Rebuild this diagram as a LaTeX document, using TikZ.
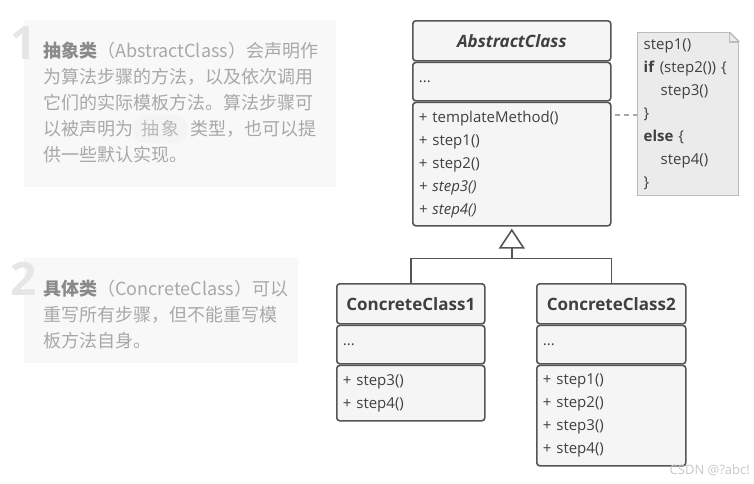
\documentclass[tikz,border=0pt]{standalone}
\usepackage{fontspec}
\setmainfont{Open Sans}
\newfontfamily\cjk{Noto Sans CJK SC}
\usetikzlibrary{positioning,arrows.meta}

\definecolor{umlline}{HTML}{555555}
\definecolor{umlfill}{HTML}{F5F5F5}
\definecolor{umltext}{HTML}{404040}
\definecolor{notefill}{HTML}{EBEBEB}
\definecolor{noteline}{HTML}{BBBBBB}
\definecolor{panelfill}{HTML}{F8F8F8}
\definecolor{paneltext}{HTML}{A8A8A8}
\definecolor{panelbold}{HTML}{8A8A8A}
\definecolor{bignum}{HTML}{E6E6E6}
\definecolor{pillfill}{HTML}{F4F4F4}

\tikzset{
  section/.style={draw=umlline, fill=umlfill, line width=1.6pt, rounded corners=3pt,
    inner sep=0pt, anchor=north west, text=umltext},
  classhead/.style={section, minimum height=40pt, font=\bfseries\fontsize{17}{19}\selectfont},
  classbody/.style={section, align=left, inner xsep=6pt, font=\fontsize{15}{23}\selectfont},
  notebox/.style={draw=noteline, fill=notefill, line width=1.4pt, anchor=north west,
    align=left, inner xsep=6pt, inner ysep=0pt, text=umltext, font=\fontsize{15}{23}\selectfont},
  notelink/.style={draw=noteline!90!black, line width=1.4pt, dash pattern=on 5pt off 4pt},
  inherit/.style={draw=umlline, line width=1.6pt},
  panel/.style={fill=panelfill, anchor=north west, inner sep=0pt},
  paneltxt/.style={anchor=west, align=left, inner sep=0pt, text=paneltext,
    font=\cjk\fontsize{18}{26}\selectfont},
  bignumber/.style={anchor=base west, inner sep=0pt, text=bignum,
    font=\bfseries\fontsize{46}{46}\selectfont},
  pill/.style={fill=pillfill, rounded corners=14pt, minimum width=55pt, minimum height=28pt,
    inner sep=0pt, text=paneltext!80!white, font=\cjk\fontsize{18}{18}\selectfont}
}

\begin{document}
\begin{tikzpicture}[x=1pt, y=-1pt]
\useasboundingbox (0,0) rectangle (754,483);

% Step 1 note (top left)
\node[panel, minimum width=312pt, minimum height=167pt] (panel1) at (24,20) {};
\node[bignumber] (num1) at (10,59) {1};
\node[pill] (pill) at (160.5,129) {抽\,象};
\node[paneltxt] (text1) at (43,103) {{\color{panelbold}\bfseries 抽象类}（AbstractClass）会声明作\\
  为算法步骤的方法，以及依次调用\\
  它们的实际模板方法。算法步骤可\\
  以被声明为\hspace*{57pt}类型，也可以提\\
  供一些默认实现。};

% Step 2 note (bottom left)
\node[panel, minimum width=274pt, minimum height=105pt] (panel2) at (24,258) {};
\node[bignumber] (num2) at (10,295) {2};
\node[paneltxt] (text2) at (43,315) {{\color{panelbold}\bfseries 具体类}（ConcreteClass）可以\\
  重写所有步骤，但不能重写模\\
  板方法自身。};

% AbstractClass
\node[classhead, minimum width=198pt] (abs-head) at (412,20) {\itshape AbstractClass};
\node[classbody, text width=186pt, minimum height=38.4pt, below=0pt of abs-head] (abs-attr) {...};
\node[classbody, text width=186pt, minimum height=123.4pt, below=0pt of abs-attr] (abs-ops)
  {+ templateMethod()\\+ step1()\\+ step2()\\\textit{+ step3()}\\\textit{+ step4()}};

% Note with the template method body
\node[notebox, minimum width=101pt, minimum height=163pt, text width=89pt] (note) at (637,32)
  {step1()\\\textbf{if} (step2()) \{\\\hspace*{17pt}step3()\\\}\\\textbf{else} \{\\\hspace*{17pt}step4()\\\}};
\fill[white] ([xshift=-10pt]note.north east) -- ([xshift=1pt,yshift=1pt]note.north east)
  -- ([yshift=-10pt]note.north east) -- cycle;
\draw[noteline, line width=1.4pt] ([xshift=-10pt]note.north east) -- ([yshift=-10pt]note.north east);
\draw[noteline, line width=1.4pt] ([xshift=-10pt]note.north east) |- ([yshift=-10pt]note.north east);
\coordinate (link) at (0,115);
\draw[notelink] ([xshift=3pt]abs-ops.east |- link) -- (note.west |- link);

% ConcreteClass1
\node[classhead, minimum width=148pt] (cc1-head) at (336,283) {ConcreteClass1};
\node[classbody, text width=136pt, minimum height=38.4pt, below=0pt of cc1-head] (cc1-attr) {...};
\node[classbody, text width=136pt, minimum height=55.4pt, below=0pt of cc1-attr] (cc1-ops)
  {+ step3()\\+ step4()};

% ConcreteClass2
\node[classhead, minimum width=149pt] (cc2-head) at (536,283) {ConcreteClass2};
\node[classbody, text width=137pt, minimum height=38.4pt, below=0pt of cc2-head] (cc2-attr) {...};
\node[classbody, text width=137pt, minimum height=100.4pt, below=0pt of cc2-attr] (cc2-ops)
  {+ step1()\\+ step2()\\+ step3()\\+ step4()};

% Inheritance
\path (abs-ops.south) ++(0,32) coordinate (fork);
\draw[inherit] (cc1-head.north) |- (fork) -| (cc2-head.north);
\draw[inherit, -{Triangle[open, length=20pt, width=26pt]}, shorten >=2pt] (fork) -- (abs-ops.south);

\node[anchor=east, inner sep=0pt, text=black!22, font=\fontsize{13}{13}\selectfont] (mark)
  at (750,470) {CSDN @?abc!};
\end{tikzpicture}
\end{document}
